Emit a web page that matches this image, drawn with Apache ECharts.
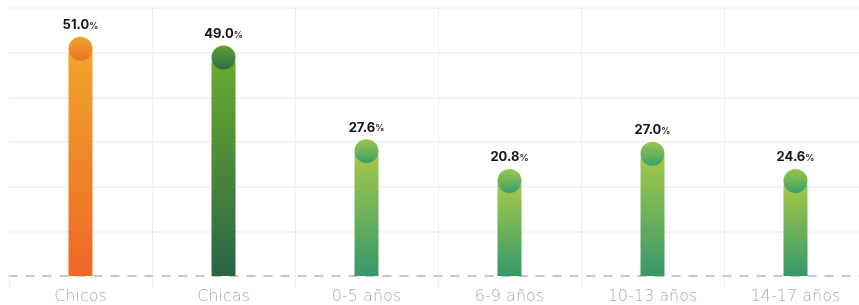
<!DOCTYPE html>
<html>
<head>
<meta charset="utf-8">
<style>html,body{margin:0;padding:0;background:#fff;}#c{width:859px;height:305px;}</style>
<script src="https://cdn.jsdelivr.net/npm/echarts@6/dist/echarts.min.js"></script>
</head>
<body>
<div id="c"></div>
<script>
var categories = ['Chicos', 'Chicas', '0-5 años', '6-9 años', '10-13 años', '14-17 años'];
// printed percentages
var labelValues = [51.0, 49.0, 27.6, 20.8, 27.0, 24.6];
// bar heights as drawn in the picture (the last bar is drawn at the same height as 6-9 años)
var barHeights = [51.0, 49.0, 27.6, 20.8, 27.0, 20.8];
var barTop = ['#F0A52A', '#6BAA2F', '#A4C84A', '#A4C84A', '#A4C84A', '#A4C84A'];
var barBottom = ['#EE6726', '#2B6446', '#35996A', '#35996A', '#35996A', '#35996A'];
var capTop = ['#F0A22A', '#5FA033', '#9CC64B', '#9CC64B', '#9CC64B', '#9CC64B'];
var capBottom = ['#EE7426', '#2E6F44', '#3AA06A', '#3AA06A', '#3AA06A', '#3AA06A'];

function grad(a, b) {
  return new echarts.graphic.LinearGradient(0, 0, 0, 1, [{offset: 0, color: a}, {offset: 1, color: b}]);
}

var chart = echarts.init(document.getElementById('c'), null, {renderer: 'canvas'});
chart.setOption({
  animation: false,
  grid: {left: 9, top: 8, width: 858, height: 268, outerBoundsMode: 'none', containLabel: false},
  xAxis: {
    type: 'category',
    data: categories,
    boundaryGap: true,
    axisLine: {show: true, lineStyle: {color: '#b5b5b5', width: 1.5, type: [8, 9]}},
    axisTick: {show: true, length: 11, lineStyle: {color: '#ececec'}, interval: 0},
    axisLabel: {color: '#aaaaaa', fontSize: 16, fontFamily: 'DejaVu Sans', fontWeight: 300, margin: 13},
    splitLine: {show: true, showMinLine: false, lineStyle: {color: '#efefef', width: 1}}
  },
  yAxis: [
    {
      type: 'value', min: 0, max: 60, interval: 10,
      axisLabel: {show: false}, axisLine: {show: false}, axisTick: {show: false},
      splitLine: {show: true, showMinLine: false, lineStyle: {color: '#efefef', width: 1.5}}
    },
    {
      type: 'value', min: 0, max: 61.2, show: false,
      splitLine: {show: false}
    }
  ],
  series: [
    {
      type: 'bar',
      yAxisIndex: 1,
      barWidth: 24,
      data: barHeights.map(function (v, i) {
        return {value: v, itemStyle: {color: grad(barTop[i], barBottom[i])}};
      }),
      emphasis: {disabled: true},
      z: 2
    },
    {
      type: 'scatter',
      yAxisIndex: 1,
      symbol: 'circle',
      symbolSize: 24,
      symbolOffset: [0, -4],
      itemStyle: {opacity: 1},
      data: barHeights.map(function (v, i) {
        return {value: v, label: labelValues[i], itemStyle: {opacity: 1, color: grad(capTop[i], capBottom[i])}};
      }),
      label: {
        show: true,
        position: 'top',
        distance: 5,
        formatter: function (p) { return '{v|' + labelValues[p.dataIndex].toFixed(1) + '}{p|%}'; },
        rich: {
          v: {fontSize: 13, fontWeight: 'bold', color: '#151515', fontFamily: 'Inter'},
          p: {fontSize: 9, fontWeight: 'bold', color: '#333', fontFamily: 'Inter', padding: [2, 0, 0, 0]}
        }
      },
      emphasis: {disabled: true},
      z: 3
    }
  ]
});
</script>
</body>
</html>
